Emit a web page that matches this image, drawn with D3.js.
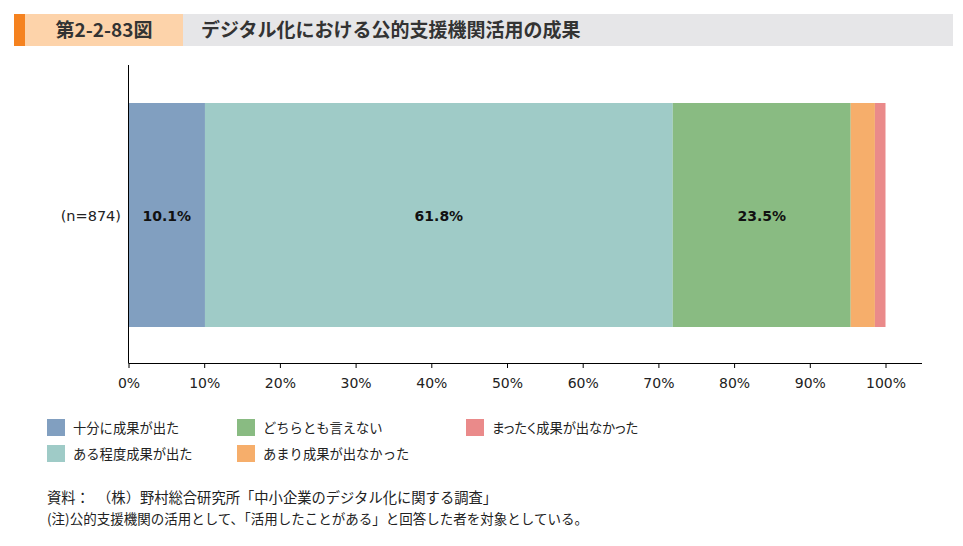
<!DOCTYPE html>
<html><head><meta charset="utf-8">
<script src="https://cdn.jsdelivr.net/npm/d3@7"></script>
<style>body{margin:0;background:#fff}svg{display:block}.palt{font-feature-settings:"palt"}</style>
</head><body>
<script>
const categories = ["(n=874)"];
const seriesNames = ["十分に成果が出た","ある程度成果が出た","どちらとも言えない","あまり成果が出なかった","まったく成果が出なかった"];
const seriesValues = [10.1, 61.8, 23.5, 3.2, 1.4];
const seriesLabels = ["10.1%","61.8%","23.5%","",""];
const colors = ["#819fc0","#9fcbc7","#89bb82","#f6ae6b","#ea8a8a"];
const tickValues = [0,10,20,30,40,50,60,70,80,90,100];
const titleNum = "第2-2-83図";
const titleText = "デジタル化における公的支援機関活用の成果";
const notes = ["資料：（株）野村総合研究所「中小企業のデジタル化に関する調査」","(注)公的支援機関の活用として、「活用したことがある」と回答した者を対象としている。"];

const W=963,H=546;
const svg=d3.select("body").append("svg").attr("width",W).attr("height",H);
const jp="'Noto Sans CJK JP','Noto Sans',sans-serif";
const lat="'DejaVu Sans','Noto Sans CJK JP',sans-serif";

// title bar
svg.append("rect").attr("x",14).attr("y",14).attr("width",939).attr("height",32).attr("fill","#e6e6e8");
svg.append("rect").attr("x",14).attr("y",14).attr("width",169).attr("height",32).attr("fill","#fdd3aa");
svg.append("rect").attr("x",14).attr("y",14).attr("width",11).attr("height",32).attr("fill","#f5821f");
svg.append("text").attr("x",104).attr("y",37).attr("text-anchor","middle").attr("font-family",jp).attr("font-size",19).attr("font-weight","bold").attr("fill","#333").text(titleNum);
svg.append("text").attr("x",201).attr("y",37).attr("font-family",jp).attr("font-size",19).attr("font-weight","bold").attr("fill","#333").text(titleText);

const x=d3.scaleLinear().domain([0,100]).range([128.5,885.5]);
const y=d3.scaleBand().domain(categories).range([103,327]).padding(0);

// stacked
let cum=0;
const segs=seriesValues.map((v,i)=>{const s={x0:cum,x1:cum+v,i};cum+=v;return s;});
const g=svg.append("g");
g.selectAll("rect").data(segs).join("rect")
 .attr("x",d=>x(d.x0)).attr("width",d=>x(d.x1)-x(d.x0))
 .attr("y",y(categories[0])).attr("height",y.bandwidth())
 .attr("fill",d=>colors[d.i]);
g.selectAll("text").data(segs).join("text")
 .attr("x",d=>x((d.x0+d.x1)/2)).attr("y",y(categories[0])+y.bandwidth()/2+5.5)
 .attr("text-anchor","middle").attr("font-family",lat).attr("font-size",14).attr("font-weight","bold").attr("fill","#111")
 .text(d=>seriesLabels[d.i]);

// axes
svg.append("line").attr("x1",128.5).attr("x2",128.5).attr("y1",65).attr("y2",363).attr("stroke","#000");
const xa=svg.append("g").attr("transform","translate(0,363)").call(d3.axisBottom(x).tickValues(tickValues).tickFormat(d=>d+"%").tickSize(5).tickSizeOuter(0));
xa.select(".domain").attr("d","M128.5,0.5H922");
xa.selectAll("text").attr("font-family",lat).attr("font-size",14).attr("fill","#222").attr("y",15).attr("dy","0.71em");
svg.append("text").attr("x",121).attr("y",y(categories[0])+y.bandwidth()/2+5.5).attr("text-anchor","end").attr("font-family",lat).attr("font-size",14.5).attr("fill","#222").text(categories[0]);

// legend
const legPos=[[47,419],[47,445],[237,419],[237,445],[466,419]];
seriesNames.forEach((n,i)=>{
 const [lx,ly]=legPos[i];
 svg.append("rect").attr("x",lx).attr("y",ly).attr("width",18).attr("height",17).attr("fill",colors[i]);
 svg.append("text").attr("x",lx+26).attr("y",ly+13.5).attr("class",i===4?"palt":null).attr("font-family",jp).attr("font-size",13.3).attr("fill","#222").text(n);
});

// notes
svg.append("text").attr("x",47).attr("y",503).attr("font-family",jp).attr("font-size",14.3).attr("fill","#222").attr("xml:space","preserve").text(notes[0].replace("：","：\u2002"));
svg.append("text").attr("x",47).attr("y",524).attr("font-family",jp).attr("font-size",13.5).attr("fill","#222").text(notes[1]);
</script>
</body></html>
